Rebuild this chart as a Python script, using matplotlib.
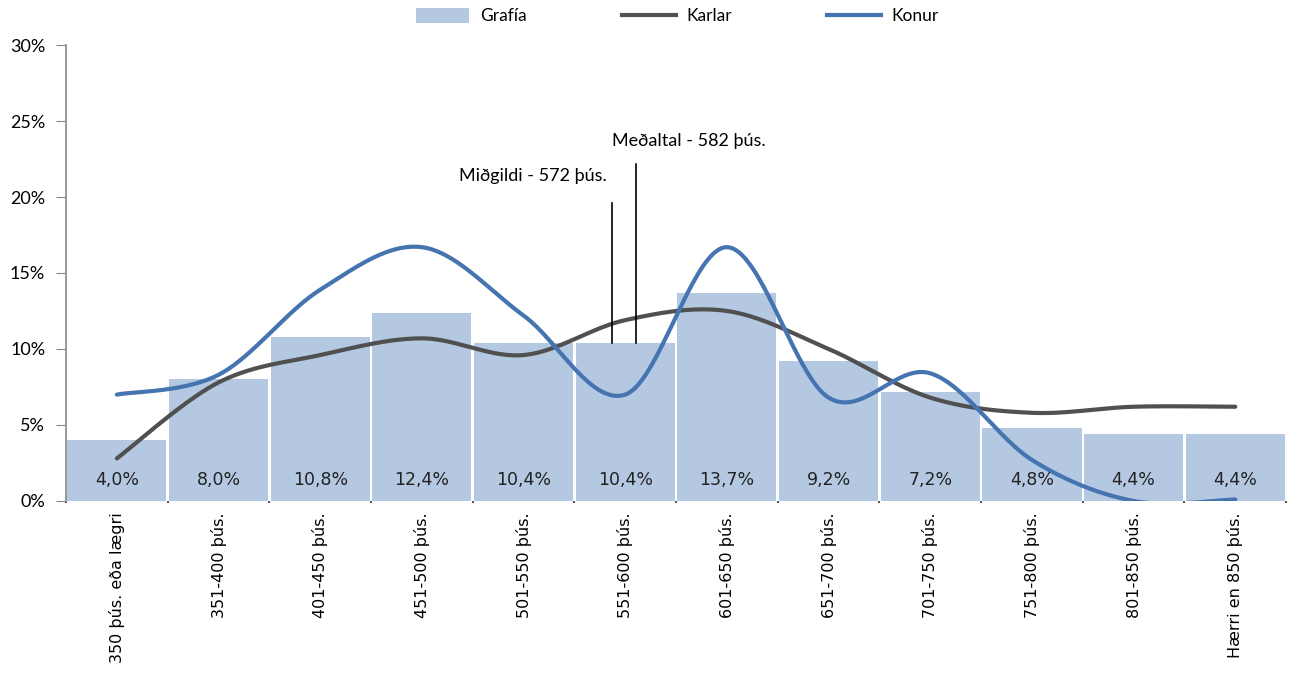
import numpy as np
import matplotlib
matplotlib.use('Agg')
import matplotlib.pyplot as plt
from matplotlib.patches import Patch
from matplotlib.lines import Line2D

# Launadreifing - hlutfall í hverju launabili
categories = ['350 þús. eða lægri', '351-400 þús.', '401-450 þús.', '451-500 þús.',
              '501-550 þús.', '551-600 þús.', '601-650 þús.', '651-700 þús.',
              '701-750 þús.', '751-800 þús.', '801-850 þús.', 'Hærri en 850 þús.']
grafia = [4.0, 8.0, 10.8, 12.4, 10.4, 10.4, 13.7, 9.2, 7.2, 4.8, 4.4, 4.4]
karlar = [2.8, 7.8, 9.6, 10.7, 9.6, 11.9, 12.5, 10.0, 6.8, 5.8, 6.2, 6.2]
konur = [7.0, 8.3, 13.9, 16.7, 12.2, 7.0, 16.7, 6.8, 8.4, 2.7, 0.0, 0.1]
midgildi = 572
medaltal = 582

BAR = '#b4c8e2'
GREY = '#505050'
BLUE = '#4674b0'


def smooth(y, n=40):
    # Excel-style smoothed line (Catmull-Rom through the points)
    y = np.asarray(y, float)
    x = np.arange(len(y), dtype=float)
    pts = np.column_stack([x, y])
    ext = np.vstack([pts[0], pts, pts[-1]])
    out = []
    t = np.linspace(0, 1, n)[:, None]
    for i in range(len(pts) - 1):
        p0, p1, p2, p3 = ext[i], ext[i + 1], ext[i + 2], ext[i + 3]
        c1 = p1 + (p2 - p0) / 6.0
        c2 = p2 - (p3 - p1) / 6.0
        seg = ((1 - t) ** 3 * p1 + 3 * (1 - t) ** 2 * t * c1
               + 3 * (1 - t) * t ** 2 * c2 + t ** 3 * p2)
        out.append(seg if i == 0 else seg[1:])
    out = np.vstack(out)
    return out[:, 0], out[:, 1]


def salary_pos(v):
    # rough position on the category axis for a salary in þús.
    return 4.5 + (v - 556) / 43.0


plt.rcParams['font.family'] = ['Lato', 'DejaVu Sans']

fig = plt.figure(figsize=(12.9, 6.79), dpi=100)
ax = fig.add_axes([0.0512, 0.2622, 0.9458, 0.6715])

x = np.arange(len(categories))
ax.bar(x, grafia, width=0.975, color=BAR, zorder=1)
for xi, v in zip(x, grafia):
    ax.text(xi, 1.4, f'{v:.1f}%'.replace('.', ','), ha='center', va='center',
            fontsize=12.5, color='#222222', family='DejaVu Sans', zorder=4)

kx, ky = smooth(karlar)
ax.plot(kx, ky, color=GREY, lw=3, solid_capstyle='round', zorder=3)
bx, by = smooth(konur)
ax.plot(bx, by, color=BLUE, lw=3, solid_capstyle='round', zorder=3)

# Miðgildi og meðaltal
mx = salary_pos(midgildi)
ax.plot([mx, mx], [grafia[5], 19.6], color='black', lw=1.2, zorder=5)
ax.text(mx - 0.78, 21.4, f'Miðgildi - {midgildi} þús.', ha='center', va='center',
        fontsize=13)
ex = salary_pos(medaltal)
ax.plot([ex, ex], [grafia[5], 22.2], color='black', lw=1.2, zorder=5)
ax.text(ex + 0.52, 23.7, f'Meðaltal - {medaltal} þús.', ha='center', va='center',
        fontsize=13)

ax.set_xlim(-0.495, 11.5)
ax.set_ylim(0, 30)
ax.set_yticks(range(0, 31, 5))
ax.set_yticklabels([f'{v}%' for v in range(0, 31, 5)], fontsize=13)
ax.tick_params(axis='y', direction='out', length=7, color='#888888', pad=8)

ax.set_xticks(x)
ax.set_xticklabels(categories, rotation=90, family='DejaVu Sans', fontsize=11.5)
ax.tick_params(axis='x', length=0, pad=8)
ax.set_xticks(np.arange(-0.5, 12, 1), minor=True)
ax.tick_params(axis='x', which='minor', length=1.5, width=1.5, color='#555555')

for s in ['top', 'right', 'bottom']:
    ax.spines[s].set_visible(False)
ax.spines['left'].set_color('#888888')
ax.spines['left'].set_linewidth(1.2)

handles = [Patch(facecolor=BAR, edgecolor='none'),
           Line2D([], [], color=GREY, lw=3),
           Line2D([], [], color=BLUE, lw=3)]
fig.legend(handles, ['Grafía', 'Karlar', 'Konur'], loc='center',
           bbox_to_anchor=(0.525, 0.976), ncol=3, frameon=False, fontsize=12.5,
           handlelength=3.1, handleheight=0.9, columnspacing=5.5, handletextpad=0.6)

fig.savefig('out.png', dpi=100)
